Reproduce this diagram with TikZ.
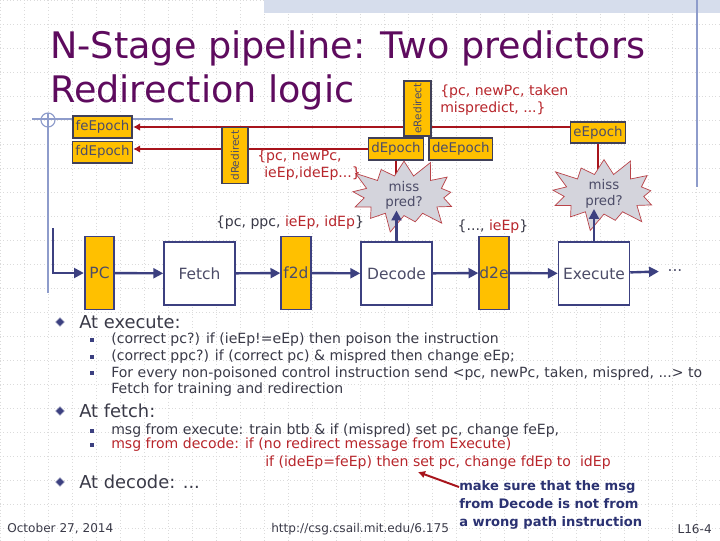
\documentclass[tikz,border=0pt]{standalone}
\usepackage{fontspec}
\setmainfont{DejaVu Sans}
\usepackage{xcolor}
\usetikzlibrary{arrows.meta,positioning,shapes.geometric,shapes.symbols}
\definecolor{navy}{HTML}{3C4080}
\definecolor{regyel}{HTML}{FFC000}
\definecolor{regline}{HTML}{404058}
\definecolor{redir}{HTML}{A8141C}
\definecolor{redtxt}{HTML}{B8262C}
\definecolor{titlepur}{HTML}{5E0B5E}
\definecolor{bodytxt}{HTML}{3A3A48}
\definecolor{boxtxt}{HTML}{4C4C68}
\definecolor{deco}{HTML}{8E9CCB}
\definecolor{band}{HTML}{D6DDEC}
\definecolor{burstfill}{HTML}{D4D4DC}
\definecolor{notetxt}{HTML}{2B3272}
\pgfdeclarelayer{bg}
\pgfsetlayers{bg,main}

\begin{document}
\begin{tikzpicture}[
  x=0.025cm,y=-0.025cm,
  gridln/.style={gray!28,dotted,line width=0.4pt},
  decoln/.style={deco,line width=0.8pt},
  title/.style={text=titlepur,font=\fontsize{26}{30}\selectfont,inner sep=0pt,anchor=base west},
  epoch/.style={draw=regline,line width=1.2pt,fill=regyel,inner xsep=2pt,inner ysep=0pt,minimum height=0.54cm,text=boxtxt,font=\fontsize{9.5}{11}\selectfont},
  redirbox/.style={epoch,rotate=90,minimum width=1.33cm,minimum height=0.66cm,font=\fontsize{7.5}{8}\selectfont},
  stage/.style={draw=navy,line width=1.2pt,fill=white,inner sep=0pt,minimum width=1.77cm,minimum height=1.58cm,text=boxtxt,font=\fontsize{11}{13}\selectfont},
  reg/.style={stage,fill=regyel,minimum width=0.74cm,minimum height=1.83cm},
  burst/.style={starburst,starburst points=13,starburst point height=0.5cm,draw=redir!80,line width=0.5pt,fill=burstfill,minimum width=3cm,minimum height=1.5cm,inner sep=0pt,align=center,text=boxtxt,font=\fontsize{9.5}{11}\selectfont},
  flow/.style={-{Triangle[length=7pt,width=7pt]},line width=1.7pt,color=navy},
  redarr/.style={-{Latex[length=5pt,width=5.5pt]},line width=2pt,color=redir},
  redln/.style={line width=2pt,color=redir},
  lbl/.style={text=redtxt,font=\fontsize{10}{12}\selectfont,align=left,inner sep=0pt},
  head/.style={text=bodytxt,font=\fontsize{12.7}{15}\selectfont,anchor=west,inner sep=0pt},
  item/.style={text=bodytxt,font=\fontsize{10}{11.8}\selectfont,anchor=west,align=left,inner sep=0pt},
  dia/.style={diamond,fill=navy,draw=navy!60,minimum size=0.22cm,inner sep=0pt},
  sqr/.style={rectangle,fill=navy,minimum size=0.1cm,inner sep=0pt},
  note/.style={text=notetxt,font=\bfseries\fontsize{9.3}{12.8}\selectfont,align=left,anchor=west,inner sep=0pt},
  foot/.style={text=bodytxt,font=\fontsize{8.6}{10}\selectfont,inner sep=0pt}
]
\useasboundingbox (0,0) rectangle (720,540);
\begin{pgfonlayer}{bg}
\fill[white] (0,0) rectangle (720,540);
\foreach \gx in {0,24,...,720} \draw[gridln] (\gx,0) -- (\gx,540);
\foreach \gy in {0,24,...,528} \draw[gridln] (0,\gy) -- (720,\gy);
\fill[band] (264,0) rectangle (720,13);
\end{pgfonlayer}
\draw[decoln] (697,0) -- (697,187);
\draw[decoln] (48,113) -- (48,293);
\draw[decoln] (32,119) -- (173,119);
\draw[decoln] (48,120) circle (7);

\node[title] (title1) at (50,58) {N-Stage pipeline: Two predictors};
\node[title] (title2) at (50,102) {Redirection logic};

\node[epoch] (feEpoch) at (102.5,127) {feEpoch};
\node[epoch,below=0.05cm of feEpoch] (fdEpoch) {fdEpoch};
\node[epoch] (dEpoch) at (396,149) {dEpoch};
\node[epoch,right=0.1cm of dEpoch] (deEpoch) {deEpoch};
\node[epoch] (eEpoch) at (598,132.5) {eEpoch};
\node[redirbox] (dRedirect) at (235,155.5) {dRedirect};
\node[redirbox] (eRedirect) at (417.5,108.5) {eRedirect};

\pgfmathsetseed{11}
\node[burst] (miss1) at (404,195.5) {miss\\pred?};
\node[burst] (miss2) at (604,194) {miss\\pred?};

\node[reg] (pc) at (99.5,273) {PC};
\node[stage] (fetch) at (199.5,273.5) {Fetch};
\node[reg] (f2d) at (296,273) {f2d};
\node[stage] (decode) at (396.5,273.5) {Decode};
\node[reg] (d2e) at (494,273) {d2e};
\node[stage] (execute) at (594,273.5) {Execute};
\node[text=boxtxt,font=\fontsize{11}{13}\selectfont,inner sep=0pt] (more) at (675,271) {...};
\coordinate (fb) at (53,228);

\node[lbl,anchor=north west] (eMsg) at (440,85) {\{pc, newPc, taken\\mispredict, ...\}};
\node[lbl,anchor=north west,font=\fontsize{10}{11.5}\selectfont] (dMsg) at (257,150) {\{pc, newPc,\\\hspace*{5pt}ieEp,ideEp...\}};
\node[lbl,text=bodytxt] (f2dMsg) at (290,223) {\{pc, ppc, \textcolor{redtxt}{ieEp, idEp}\}};
\node[lbl,text=bodytxt] (d2eMsg) at (493,227) {\{..., \textcolor{redtxt}{ieEp}\}};

\begin{pgfonlayer}{bg}
\draw[redarr] (eEpoch.west |- feEpoch.east) -- (feEpoch.east);
\draw[redarr] (dEpoch.west) -- (fdEpoch.east |- dEpoch.west);
\draw[redln] (dEpoch.south) -- (dEpoch.south |- miss1.center);
\draw[redln] (eEpoch.south) -- (eEpoch.south |- miss2.center);
\end{pgfonlayer}

\draw[flow] (fb) |- (pc.west);
\draw[flow] (pc)--(fetch);
\draw[flow] (fetch)--(f2d);
\draw[flow] (f2d)--(decode);
\draw[flow] (decode)--(d2e);
\draw[flow] (d2e)--(execute);
\draw[flow,shorten >=6pt] (execute)--(more);
\draw[flow,shorten >=-4pt] (decode.north)--(decode.north |- miss1.south);
\draw[flow,shorten >=-4pt] (execute.north)--(execute.north |- miss2.south);

\node[dia] (b1) at (60,322) {};
\node[head] (atExec) at (79,322) {At execute:};
\node[sqr] (s1) at (92,340) {};
\node[sqr] (s2) at (92,357) {};
\node[sqr] (s3) at (92,373) {};
\node[item] (e1) at (111,340) {(correct pc?) if (ieEp!=eEp) then poison the instruction};
\node[item] (e2) at (111,357) {(correct ppc?) if (correct pc) \& mispred then change eEp;};
\node[item] (e3) at (111,381.5) {For every non-poisoned control instruction send <pc, newPc, taken, mispred, ...> to\\Fetch for training and redirection};

\node[dia] (b2) at (60,411) {};
\node[head] (atFetch) at (79,411) {At fetch:};
\node[sqr] (s4) at (92,431) {};
\node[sqr] (s5) at (92,445) {};
\node[item] (f1) at (111,431) {msg from execute: train btb \& if (mispred) set pc, change feEp,};
\node[item,text=redtxt] (f2) at (111,445) {msg from decode: if (no redirect message from Execute)};
\node[item,text=redtxt] (f3) at (265,463) {if (ideEp=feEp) then set pc, change fdEp to \ idEp};

\node[dia] (b3) at (60,482) {};
\node[head] (atDec) at (79,482) {At decode: ...};

\node[note] (note) at (459,505) {make sure that the msg\\from Decode is not from\\a wrong path instruction};
\coordinate (noteTail) at (459,487);
\coordinate (setPc) at (418,472);
\draw[redarr,line width=1.4pt] (noteTail) -- (setPc);

\node[foot,anchor=west] (date) at (7,529) {October 27, 2014};
\node[foot,anchor=west] (url) at (271,529) {http://csg.csail.mit.edu/6.175};
\node[foot,anchor=east] (slideNo) at (712,529) {L16-4};
\end{tikzpicture}
\end{document}
